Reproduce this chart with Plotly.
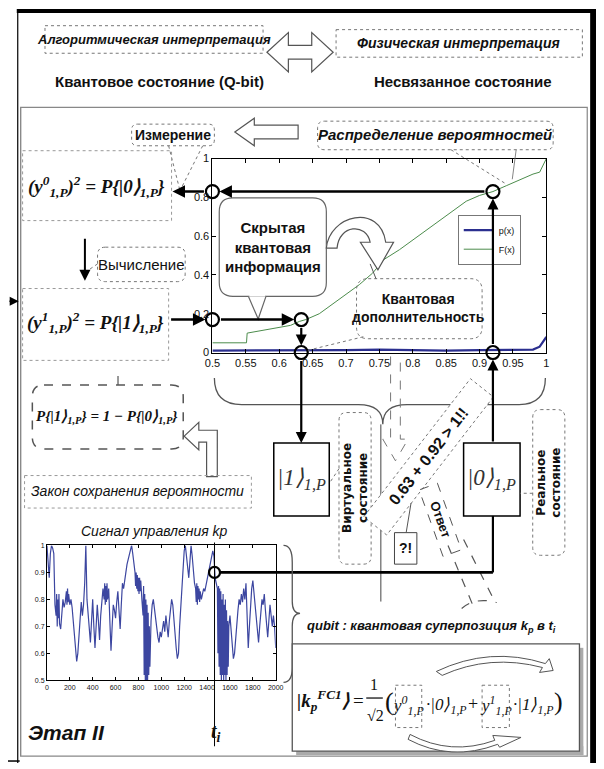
import math
import plotly.graph_objects as go

W, H = 604, 769

# ---------------- data: probability distribution chart ----------------
F_x = [0.50, 0.52, 0.54, 0.551, 0.552, 0.57, 0.585, 0.60, 0.617, 0.63, 0.64, 0.66, 0.68, 0.70,
       0.72, 0.74, 0.757, 0.78, 0.80, 0.82, 0.84, 0.86, 0.88, 0.90, 0.92, 0.94, 0.96, 0.98, 0.99, 1.00]
F_y = [0.05, 0.05, 0.05, 0.05, 0.10, 0.11, 0.12, 0.13, 0.14, 0.16, 0.17, 0.20, 0.25, 0.30,
       0.35, 0.41, 0.48, 0.53, 0.58, 0.63, 0.68, 0.73, 0.78, 0.81, 0.83, 0.86, 0.89, 0.92, 0.93, 1.00]
p_x = [0.50, 0.55, 0.60, 0.65, 0.70, 0.75, 0.80, 0.85, 0.90, 0.95, 0.98, 0.99, 1.00]
p_y = [0.010, 0.010, 0.012, 0.010, 0.012, 0.015, 0.012, 0.010, 0.012, 0.012, 0.015, 0.030, 0.080]
main_xticks = [0.5, 0.55, 0.6, 0.65, 0.7, 0.75, 0.8, 0.85, 0.9, 0.95, 1.0]
main_xticklabels = ["0.5", "0.55", "0.6", "0.65", "0.7", "0.75", "0.8", "0.85", "0.9", "0.95", "1"]
main_yticks = [0, 0.2, 0.4, 0.6, 0.8, 1.0]
main_yticklabels = ["0", "0.2", "0.4", "0.6", "0.8", "1"]

# marked states
q_x0, q_p0 = 0.92, 0.83     # |0>
q_x1, q_p1 = 0.633, 0.17    # |1>

# ---------------- data: control signal kp ----------------
sig_t = [0, 10, 20, 30, 40, 50, 60, 70, 80, 85, 90, 95, 100, 105, 110, 120, 130, 140, 150, 160, 170, 175,
         180, 185, 190, 200, 210, 220, 230, 240, 250, 260, 270, 280, 290, 300, 310, 320, 330, 340, 350,
         360, 370, 380, 390, 400, 410, 420, 430, 440, 450, 460, 470, 480, 490, 500, 505, 510, 515, 520,
         525, 530, 540, 550, 560, 570, 580, 590, 600, 610, 620, 630, 640, 650, 660, 670, 680, 690, 700,
         710, 720, 730, 740, 750, 760, 770, 775, 780, 785, 790, 795, 800, 805, 810, 815, 820, 830, 840,
         845, 850, 855, 860, 865, 870, 875, 880, 885, 890, 895, 900, 910, 920, 930, 940, 950, 960, 970,
         980, 990, 1000, 1010, 1020, 1030, 1040, 1050, 1060, 1070, 1080, 1090, 1100, 1110, 1120, 1130,
         1140, 1150, 1160, 1170, 1180, 1190, 1200, 1210, 1220, 1230, 1240, 1250, 1260, 1270, 1280, 1290,
         1300, 1305, 1310, 1315, 1320, 1325, 1330, 1335, 1340, 1350, 1360, 1370, 1380, 1390, 1400, 1410,
         1420, 1430, 1440, 1450, 1460, 1465, 1470, 1480, 1490, 1495, 1500, 1505, 1510, 1515, 1520, 1525,
         1530, 1535, 1540, 1545, 1550, 1555, 1560, 1565, 1570, 1575, 1580, 1585, 1590, 1600, 1610, 1620,
         1630, 1640, 1650, 1660, 1670, 1680, 1690, 1700, 1710, 1720, 1730, 1740, 1750, 1760, 1770, 1780,
         1790, 1800, 1810, 1820, 1830, 1840, 1850, 1860, 1870, 1880, 1890, 1900, 1910, 1920, 1930, 1940,
         1950, 1960, 1970, 1980, 1990, 2000]
sig_kp = [1.00, 0.95, 0.88, 0.97, 1.00, 0.99, 0.97, 0.78, 0.74, 0.82, 0.70, 0.80, 0.73, 0.82, 0.71, 0.69,
          0.76, 0.80, 0.77, 0.79, 0.83, 0.78, 0.84, 0.79, 0.82, 0.78, 0.80, 0.77, 0.72, 0.66, 0.60, 0.57,
          0.60, 0.66, 0.75, 0.79, 0.74, 0.78, 0.86, 1.00, 0.80, 0.75, 0.70, 0.64, 0.72, 0.80, 0.70, 0.62,
          0.70, 0.78, 0.72, 0.65, 0.74, 0.80, 0.84, 0.80, 0.86, 0.78, 0.85, 0.79, 0.86, 0.80, 0.84, 0.72,
          0.61, 0.70, 0.78, 0.76, 0.73, 0.79, 0.83, 0.76, 0.69, 0.78, 0.86, 0.84, 0.88, 0.90, 0.93, 0.95,
          0.97, 0.99, 1.00, 0.97, 0.93, 0.90, 0.85, 0.90, 0.84, 0.89, 0.83, 0.88, 0.82, 0.88, 0.83, 0.87,
          0.80, 0.74, 0.85, 0.52, 0.82, 0.50, 0.80, 0.50, 0.78, 0.50, 0.75, 0.52, 0.70, 0.55, 0.72, 0.78,
          0.80, 0.76, 0.72, 0.70, 0.66, 0.64, 0.68, 0.66, 0.70, 0.72, 0.68, 0.74, 0.70, 0.66, 0.72, 0.76,
          0.80, 0.78, 0.72, 0.66, 0.62, 0.58, 0.60, 0.70, 0.78, 0.86, 0.92, 0.98, 1.00, 0.96, 0.92, 0.88,
          0.94, 1.00, 0.96, 0.90, 0.86, 0.84, 0.79, 0.86, 0.78, 0.85, 0.80, 0.84, 0.79, 0.83, 0.80, 0.82,
          0.84, 0.83, 0.85, 0.87, 0.89, 0.91, 0.93, 0.95, 0.98, 0.96, 0.90, 0.88, 0.86, 0.84, 0.60, 0.85,
          0.55, 0.84, 0.52, 0.83, 0.50, 0.80, 0.52, 0.82, 0.50, 0.78, 0.52, 0.80, 0.50, 0.76, 0.52, 0.72,
          0.55, 0.70, 0.74, 0.68, 0.62, 0.58, 0.60, 0.66, 0.72, 0.76, 0.80, 0.78, 0.82, 0.79, 0.84, 0.80,
          0.86, 0.74, 0.62, 0.70, 0.78, 0.84, 0.87, 0.82, 0.78, 0.72, 0.68, 0.64, 0.70, 0.76, 0.80, 0.78,
          0.82, 0.76, 0.70, 0.66, 0.72, 0.78, 0.74, 0.70, 0.74, 0.70, 0.62]
sig_xticks = [0, 200, 400, 600, 800, 1000, 1200, 1400, 1600, 1800, 2000]
sig_yticks = [0.5, 0.6, 0.7, 0.8, 0.9, 1.0]
sig_yticklabels = ["0.5", "0.6", "0.7", "0.8", "0.9", "1"]
t_i, kp_i = 1465, 0.90

# ---------------- geometry (pixels) ----------------
MX0, MX1, MY0, MY1 = 210, 553, 155, 352     # main plot box
SX0, SX1, SY0, SY1 = 40, 275, 548, 685      # signal plot box


def mx(v):
    return MX0 + (v - 0.5) / 0.5 * (MX1 - MX0)


def my(v):
    return MY1 - v * (MY1 - MY0)


def sx(v):
    return SX0 + v / 2000 * (SX1 - SX0)


def sy(v):
    return SY1 - (v - 0.5) / 0.5 * (SY1 - SY0)


SANS = "Liberation Sans, Arial, sans-serif"
NARROW = "Liberation Sans Narrow, Liberation Sans, Arial, sans-serif"
SERIF = "Liberation Serif, Times New Roman, serif"

shapes = []
anns = []


def line(x0, y0, x1, y1, color="black", width=1.0, dash=None):
    d = dict(type="line", x0=x0, y0=y0, x1=x1, y1=y1, xref="x3", yref="y3",
             line=dict(color=color, width=width))
    if dash:
        d["line"]["dash"] = dash
    shapes.append(d)


def rect(x0, y0, x1, y1, color="black", width=1.0, dash=None, fill=None):
    d = dict(type="rect", x0=x0, y0=y0, x1=x1, y1=y1, xref="x3", yref="y3",
             line=dict(color=color, width=width), fillcolor=fill or "rgba(0,0,0,0)")
    if dash:
        d["line"]["dash"] = dash
    shapes.append(d)


def path(p, color="black", width=1.0, dash=None, fill=None):
    d = dict(type="path", path=p, xref="x3", yref="y3",
             line=dict(color=color, width=width), fillcolor=fill or "rgba(0,0,0,0)")
    if dash:
        d["line"]["dash"] = dash
    shapes.append(d)


def rrect(x0, y0, x1, y1, r):
    return (f"M {x0+r},{y0} L {x1-r},{y0} Q {x1},{y0} {x1},{y0+r} L {x1},{y1-r} "
            f"Q {x1},{y1} {x1-r},{y1} L {x0+r},{y1} Q {x0},{y1} {x0},{y1-r} "
            f"L {x0},{y0+r} Q {x0},{y0} {x0+r},{y0} Z")


def rot_rect(cx, cy, w, h, ang):
    a = math.radians(ang)
    pts = []
    for dx, dy in [(-w/2, -h/2), (w/2, -h/2), (w/2, h/2), (-w/2, h/2)]:
        pts.append((cx + dx*math.cos(a) - dy*math.sin(a), cy + dx*math.sin(a) + dy*math.cos(a)))
    return "M " + " L ".join(f"{x:.1f},{y:.1f}" for x, y in pts) + " Z"


def txt(x, y, s, size=12, fam=SANS, color="#111", angle=0, xanchor="center", yanchor="middle"):
    anns.append(dict(x=x, y=y, xref="x3", yref="y3", text=s, showarrow=False,
                     font=dict(size=size, family=fam, color=color), textangle=angle,
                     xanchor=xanchor, yanchor=yanchor))


def arrow(x0, y0, x1, y1, width=2.2, color="black", head=2, size=1.0, standoff=0, startstandoff=0):
    anns.append(dict(x=x1, y=y1, ax=x0, ay=y0, xref="x3", yref="y3", axref="x3", ayref="y3",
                     text="", showarrow=True, arrowhead=head, arrowsize=size, arrowwidth=width,
                     arrowcolor=color, standoff=standoff, startstandoff=startstandoff))


DASH_GRAY = "#777"

# ---------------- frame ----------------
rect(9, 3, 604, 7, color="black", width=0, fill="black")
rect(598, 3, 604, 769, color="black", width=0, fill="black")
line(10, 3, 10, 769, color="black", width=1.2)
line(13, 103, 13, 762, color="#888", width=1)
rect(13, 103, 595, 762, color="#888", width=1.2)
line(0, 767, 12, 767, color="black", width=1.5)
arrow(0, 300, 11, 300, width=1.5, head=2, size=1.2)

# ---------------- header ----------------
rect(38, 20, 262, 48, color=DASH_GRAY, width=1, dash="dot")
txt(150, 34, "<b><i>Алгоритмическая интерпретация</i></b>", size=13)
path("M 266,47 L 288,27 L 288,40 L 312,40 L 312,27 L 334,47 L 312,67 L 312,54 L 288,54 L 288,67 Z",
     color="#555", width=1.2, fill="white")
rect(337, 24, 590, 52, color=DASH_GRAY, width=1, dash="dot")
txt(463, 38, "<b><i>Физическая интерпретация</i></b>", size=14)
txt(156, 77, "<b>Квантовое состояние (Q-bit)</b>", size=15)
txt(467, 77, "<b>Несвязанное состояние</b>", size=15)

# ---------------- measurement / distribution labels ----------------
path(rrect(127, 120, 212, 142, 6), color=DASH_GRAY, width=1, dash="dot")
txt(169, 131, "<b>Измерение</b>", size=14, fam=NARROW)
path("M 233,128 L 253,114 L 253,121 L 298,121 L 298,135 L 253,135 L 253,142 Z",
     color="#555", width=1.2, fill="white")
path(rrect(318, 117, 560, 146, 7), color=DASH_GRAY, width=1, dash="dot")
txt(439, 131, "<b><i>Распределение вероятностей</i></b>", size=15)
line(455, 146, 512, 181, color=DASH_GRAY, width=1, dash="dot")
line(522, 146, 518, 176, color="#666", width=0.8)
line(165, 142, 176, 185, color=DASH_GRAY, width=1, dash="dot")
line(200, 142, 178, 185, color=DASH_GRAY, width=1, dash="dot")

# ---------------- left formulas ----------------
rect(15, 147, 168, 218, color="#999", width=1, dash="dot")
txt(91, 183, "<b><i>(y<sup>0</sup><sub>1,P</sub>)<sup>2</sup> = P{|0⟩<sub>1,P</sub>}</i></b>",
    size=19, fam=SERIF)
arrow(79, 235, 79, 279, width=2, head=2, size=1.1)
path(rrect(92, 245, 182, 280, 8), color=DASH_GRAY, width=1, dash="dot")
txt(137, 263, "Вычисление", size=15, fam=NARROW)
line(92, 262, 83, 268, color=DASH_GRAY, width=1, dash="dot")
rect(15, 287, 165, 360, color="#999", width=1, dash="dot")
txt(90, 322, "<b><i>(y<sup>1</sup><sub>1,P</sub>)<sup>2</sup> = P{|1⟩<sub>1,P</sub>}</i></b>",
    size=19, fam=SERIF)
path(rrect(25, 385, 180, 450, 12), color="#555", width=1.5, dash="dash")
line(113, 385, 113, 368, color="#555", width=1.2, dash="dash")
txt(102, 418, "<b><i>P{|1⟩<sub>1,P</sub>} = 1 − P{|0⟩<sub>1,P</sub>}</i></b>", size=15, fam=SERIF)
path("M 181,437 L 196,423 L 196,431 L 215,431 L 215,478 L 204,478 L 204,443 L 196,443 L 196,451 Z",
     color="#555", width=1.2, fill="white")
rect(17, 477, 250, 510, color="#999", width=1, dash="dot")
txt(133, 493, "<i>Закон сохранения вероятности</i>", size=14)

# ---------------- inside main chart ----------------
path(rrect(217, 195, 327, 295, 14), color="#666", width=1.2, fill="white")
path("M 247,295 L 257,318 L 265,295", color="#666", width=1.2, fill="white")
line(248, 294, 264, 294, color="white", width=2)
txt(272, 245, "<b>Скрытая<br>квантовая<br>информация</b>", size=15, fam=NARROW)
path("M 327,246 C 330,212 382,200 388,240 L 396,240 L 380,268 L 362,240 L 372,240 "
     "C 368,220 340,222 338,246 Z", color="#555", width=1.2, fill="white")
path(rrect(358, 277, 487, 338, 12), color=DASH_GRAY, width=1, dash="dot")
txt(422, 307, "<b>Квантовая<br>дополнительность</b>", size=14, fam=NARROW)
line(365, 336, 307, 350, color=DASH_GRAY, width=1, dash="dot")
line(378, 277, 372, 262, color="#555", width=1)

# ---------------- connectors of the main chart ----------------
arrow(mx(q_x0), my(q_p0), mx(0.5), my(q_p0), width=2.5, standoff=7, startstandoff=7)
arrow(mx(0.5), my(q_p0), 169, my(q_p0), width=2.5, startstandoff=7)
arrow(166, my(q_p1), mx(0.5), my(q_p1), width=2.5, standoff=7)
arrow(mx(0.5), my(q_p1), mx(q_x1), my(q_p1), width=2.5, standoff=7, startstandoff=7)
arrow(mx(q_x1), my(q_p1), mx(q_x1), my(0), width=2.2, standoff=7, startstandoff=7)
arrow(mx(q_x1), my(0), mx(q_x1), 444, width=2.2, startstandoff=7)
arrow(mx(q_x0), 444, mx(q_x0), my(0), width=2.2, standoff=7)
arrow(mx(q_x0), my(0), mx(q_x0), my(q_p0), width=2.2, standoff=7, startstandoff=7)

# brace below main chart
path("M 212,378 Q 212,405 240,405 L 360,405 Q 385,405 385,425 Q 385,405 410,405 "
     "L 525,405 Q 552,405 552,378", color="#555", width=1.3)
line(383, 425, 383, 605, color="#444", width=1)
# dashed hollow down arrow
path("M 393,356 L 393,440 L 385,440 L 398,462 L 411,440 L 403,440 L 403,356",
     color=DASH_GRAY, width=1, dash="dash")

# ket boxes
rect(273, 444, 330, 518, color="black", width=1.5)
txt(301, 481, "<i>|1⟩<sub>1,P</sub></i>", size=23, fam=SERIF, color="#333")
rect(468, 444, 526, 518, color="black", width=1.5)
txt(497, 481, "<i>|0⟩<sub>1,P</sub></i>", size=23, fam=SERIF, color="#333")

# vertical labels
path(rrect(340, 413, 373, 567, 8), color=DASH_GRAY, width=1, dash="dot")
txt(357, 490, "<b>Виртуальное<br>состояние</b>", size=12, fam="DejaVu Sans", angle=-90)
line(340, 470, 330, 485, color=DASH_GRAY, width=1, dash="dot")
path(rrect(539, 410, 572, 558, 8), color=DASH_GRAY, width=1, dash="dot")
txt(556, 484, "<b>Реальное<br>состояние</b>", size=12, fam="DejaVu Sans", angle=-90)
line(539, 495, 526, 495, color=DASH_GRAY, width=1, dash="dot")

# diagonal statement
path(rot_rect(432, 458, 178, 30, -52), color=DASH_GRAY, width=1, dash="dot", fill="white")
txt(432, 458, "<b>0.63 + 0.92 > 1!!</b>", size=16, angle=-52)
rect(397, 535, 420, 567, color="#444", width=1)
txt(408, 551, "<b>?!</b>", size=14)
line(409, 535, 414, 505, color="#555", width=1)
path(rot_rect(444, 522, 72, 20, 70), color="#555", width=1, dash="dash")
txt(444, 522, "<b>Ответ</b>", size=13, angle=70)
line(452, 548, 478, 610, color="#555", width=1.2, dash="dash")
line(468, 542, 500, 605, color="#555", width=1.2, dash="dash")
path("M 466,612 Q 480,600 502,606", color="#555", width=1.2, dash="dash")

# link from signal to |0>
line(sx(t_i) + 6, sy(kp_i), mx(q_x0), sy(kp_i), color="black", width=2.8)
line(mx(q_x0), sy(kp_i), mx(q_x0), 518, color="black", width=2.2)

# signal brace and marker line
path("M 283,548 Q 292,548 292,565 L 292,605 Q 292,617 300,617 Q 292,617 292,630 "
     "L 292,672 Q 292,687 283,687", color="#555", width=1.3)
line(sx(t_i), 545, sx(t_i), 752, color="black", width=1)
txt(150, 533, "<i>Сигнал управления kp</i>", size=14)
txt(60, 738, "<b><i>Этап II</i></b>", size=21)
txt(214, 738, "<b><i>t<sub>i</sub></i></b>", size=20, fam=SERIF)

# ---------------- bottom-right formula ----------------
txt(435, 630, "<b><i>qubit : квантовая суперпозиция k<sub>p</sub> в t<sub>i</sub></i></b>", size=13)
rect(296, 752, 591, 761, color="#aaa", width=0, fill="#aaa")
rect(587, 652, 591, 761, color="#aaa", width=0, fill="#aaa")
rect(292, 648, 587, 757, color="#555", width=1.3, fill="white")
path("M 440,676 Q 495,650 552,668 L 556,663 L 560,675 L 546,677 L 549,672 Q 495,658 446,680 Z",
     color="#555", width=1, fill="white")
path("M 413,740 Q 455,762 500,746 L 498,741 L 527,743 L 505,753 L 503,750 Q 455,768 411,745 Z",
     color="#555", width=1, fill="white")
txt(324, 706, "<b><i>|k<sub>p</sub><sup>FC1</sup>⟩</i></b>", size=19, fam=SERIF)
txt(360, 706, "=", size=19, fam=SERIF)
txt(376, 689, "1", size=16, fam=SERIF)
line(368, 703, 385, 703, color="black", width=1.2)
txt(377, 721, "√2", size=16, fam=SERIF)
txt(392, 707, "(", size=26, fam=SERIF)
txt(411, 711, "<i>y<sup>0</sup><sub>1,P</sub></i>", size=17, fam=SERIF)
rect(398, 690, 425, 733, color="#777", width=1, dash="dot")
txt(450, 711, "<i>·|0⟩<sub>1,P</sub></i>", size=17, fam=SERIF)
txt(478, 709, "+", size=18, fam=SERIF)
txt(501, 711, "<i>y<sup>1</sup><sub>1,P</sub></i>", size=17, fam=SERIF)
rect(487, 690, 515, 733, color="#777", width=1, dash="dot")
txt(540, 711, "<i>·|1⟩<sub>1,P</sub></i>", size=17, fam=SERIF)
txt(565, 707, ")", size=26, fam=SERIF)

# ---------------- traces ----------------
fig = go.Figure()
fig.add_trace(go.Scatter(x=p_x, y=p_y, mode="lines", name="p(x)",
                         line=dict(color="#2b2f8f", width=2.2), xaxis="x", yaxis="y"))
fig.add_trace(go.Scatter(x=F_x, y=F_y, mode="lines", name="F(x)",
                         line=dict(color="#4c8c4c", width=1), xaxis="x", yaxis="y"))
fig.add_trace(go.Scatter(x=[0.5, q_x0, q_x0, 0.5, q_x1, q_x1], y=[q_p0, q_p0, 0, q_p1, q_p1, 0],
                         mode="markers", showlegend=False, cliponaxis=False,
                         marker=dict(symbol="circle-open", size=13, color="black",
                                     line=dict(width=2.2, color="black")),
                         xaxis="x", yaxis="y", hoverinfo="skip"))
fig.add_trace(go.Scatter(x=sig_t, y=sig_kp, mode="lines", showlegend=False,
                         line=dict(color="#3c46a0", width=1.2), xaxis="x2", yaxis="y2"))
fig.add_trace(go.Scatter(x=[t_i], y=[kp_i], mode="markers", showlegend=False, cliponaxis=False,
                         marker=dict(symbol="circle-open", size=11, color="black",
                                     line=dict(width=2.2, color="black")),
                         xaxis="x2", yaxis="y2", hoverinfo="skip"))
fig.add_trace(go.Scatter(x=[0], y=[0], mode="markers", marker=dict(opacity=0), showlegend=False,
                         hoverinfo="skip", xaxis="x3", yaxis="y3"))

ax_common = dict(showgrid=False, zeroline=False, showline=True, linecolor="black", linewidth=1,
                 mirror="ticks", ticks="inside", tickcolor="black")
fig.update_layout(
    width=W, height=H, margin=dict(l=0, r=0, t=0, b=0),
    paper_bgcolor="white", plot_bgcolor="rgba(0,0,0,0)",
    font=dict(family=SANS, color="#111"),
    xaxis=dict(domain=[MX0 / W, MX1 / W], range=[0.5, 1], anchor="y", tickvals=main_xticks,
               ticktext=main_xticklabels, ticklen=4, tickfont=dict(size=11, family=NARROW), **ax_common),
    yaxis=dict(domain=[1 - MY1 / H, 1 - MY0 / H], range=[0, 1], anchor="x", tickvals=main_yticks,
               ticktext=main_yticklabels, ticklen=4, tickfont=dict(size=11, family=NARROW), **ax_common),
    xaxis2=dict(domain=[SX0 / W, SX1 / W], range=[0, 2000], anchor="y2", tickvals=sig_xticks,
                ticklen=3, tickfont=dict(size=7, family=NARROW), **ax_common),
    yaxis2=dict(domain=[1 - SY1 / H, 1 - SY0 / H], range=[0.5, 1], anchor="x2", tickvals=sig_yticks,
                ticktext=sig_yticklabels, ticklen=3, tickfont=dict(size=7, family=NARROW), **ax_common),
    xaxis3=dict(domain=[0, 1], range=[0, W], anchor="y3", visible=False, showgrid=False, zeroline=False),
    yaxis3=dict(domain=[0, 1], range=[H, 0], anchor="x3", visible=False, showgrid=False, zeroline=False),
    legend=dict(x=462 / W, y=1 - 212 / H, xanchor="left", yanchor="top", bgcolor="white",
                bordercolor="#777", borderwidth=1, font=dict(size=9), tracegroupgap=0,
                itemwidth=30),
    shapes=shapes, annotations=anns, showlegend=True,
)

fig.write_html("out.html")
